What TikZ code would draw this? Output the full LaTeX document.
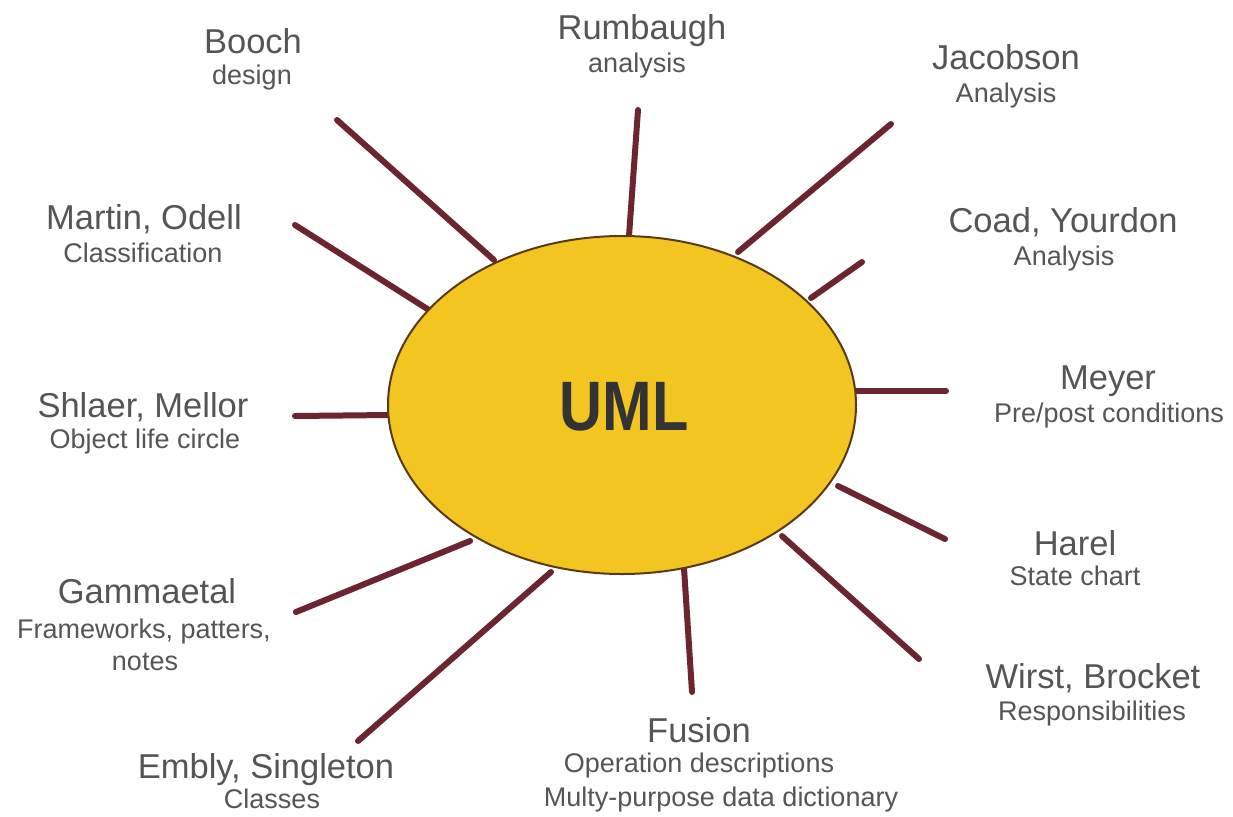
\documentclass[tikz,border=0pt]{standalone}
\usepackage{fontspec}
\setmainfont{Liberation Sans}
\usetikzlibrary{shapes.geometric}
\definecolor{sunfill}{HTML}{F2C520}
\definecolor{sunedge}{HTML}{5A3A14}
\definecolor{ray}{HTML}{6B2430}
\definecolor{txt}{HTML}{555555}
\definecolor{umltxt}{HTML}{333333}
\begin{document}
\begin{tikzpicture}[x=1pt,y=-1pt,
  nm/.style={anchor=base,text=txt,inner sep=0pt,font=\fontsize{34.5}{40}\selectfont},
  ds/.style={anchor=base,text=txt,inner sep=0pt,font=\fontsize{27}{32}\selectfont},
  rayline/.style={draw=ray,line width=6pt,line cap=round},
  sun/.style={ellipse,draw=sunedge,fill=sunfill,line width=2pt,inner sep=0pt,
              minimum width=468pt,minimum height=338pt}]
\useasboundingbox (0,0) rectangle (1233,816);
\fill[white] (0,0) rectangle (1233,816);

% ray end points
\coordinate (booch-out) at (337,120);   \coordinate (booch-in) at (494,260);
\coordinate (rumb-out) at (638,110);    \coordinate (rumb-in) at (629,236);
\coordinate (jac-out) at (891,124);     \coordinate (jac-in) at (738,252);
\coordinate (mart-out) at (295,225);    \coordinate (mart-in) at (429,310);
\coordinate (coad-out) at (862,262);    \coordinate (coad-in) at (811,298);
\coordinate (shl-out) at (295,416);     \coordinate (shl-in) at (390,415);
\coordinate (mey-out) at (946,391);     \coordinate (mey-in) at (854,391);
\coordinate (gam-out) at (296,612);     \coordinate (gam-in) at (470,541);
\coordinate (har-out) at (945,539);     \coordinate (har-in) at (838,486);
\coordinate (emb-out) at (358,741);     \coordinate (emb-in) at (551,572);
\coordinate (fus-out) at (692,692);     \coordinate (fus-in) at (684,568);
\coordinate (wir-out) at (919,659);     \coordinate (wir-in) at (782,536);

% rays
\foreach \r in {booch,rumb,jac,mart,coad,shl,mey,gam,har,emb,fus,wir}
  \draw[rayline] (\r-out) -- (\r-in);

% central ellipse
\node[sun] (uml) at (622,405) {};
\node[anchor=base,inner sep=0pt,text=umltxt,font=\fontsize{70}{80}\selectfont\bfseries]
  (umltext) at (624,430) {\scalebox{0.85}[1]{UML}};

% labels
\node[nm] (booch) at (253,54) {Booch};
\node[ds] (booch-d) at (252,84) {design};
\node[nm] (rumb) at (642,40) {Rumbaugh};
\node[ds] (rumb-d) at (637,72) {analysis};
\node[nm] (jac) at (1006,70) {Jacobson};
\node[ds] (jac-d) at (1006,102) {Analysis};
\node[nm] (mart) at (144,229) {Martin, Odell};
\node[ds] (mart-d) at (143,262) {Classification};
\node[nm] (coad) at (1063,232) {Coad, Yourdon};
\node[ds] (coad-d) at (1064,265) {Analysis};
\node[nm] (shl) at (143,417) {Shlaer, Mellor};
\node[ds] (shl-d) at (145,448) {Object life circle};
\node[nm] (mey) at (1108,389) {Meyer};
\node[ds] (mey-d) at (1109,422) {Pre/post conditions};
\node[nm] (har) at (1075,555) {Harel};
\node[ds] (har-d) at (1075,585) {State chart};
\node[nm] (gam) at (147,603) {Gammaetal};
\node[ds] (gam-d1) at (144,638) {Frameworks, patters,};
\node[ds] (gam-d2) at (145,670) {notes};
\node[nm] (wir) at (1093,688) {Wirst, Brocket};
\node[ds] (wir-d) at (1092,720) {Responsibilities};
\node[nm] (emb) at (266,778) {Embly, Singleton};
\node[ds] (emb-d) at (272,808) {Classes};
\node[nm] (fus) at (699,742) {Fusion};
\node[ds] (fus-d1) at (699,772) {Operation descriptions};
\node[ds] (fus-d2) at (721,806) {Multy-purpose data dictionary};
\end{tikzpicture}
\end{document}
